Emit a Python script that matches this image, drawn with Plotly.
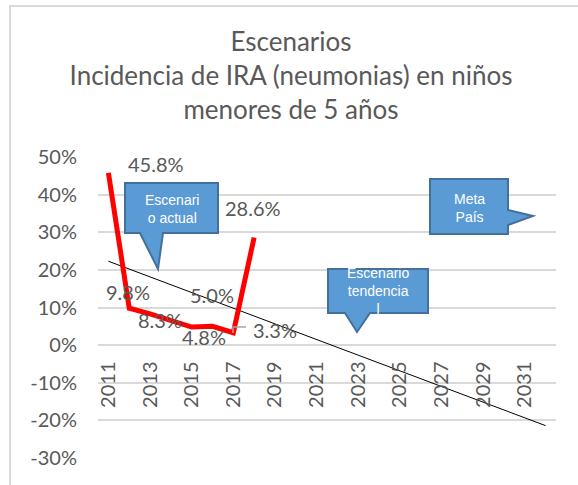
import plotly.graph_objects as go

# ---------------- data ----------------
years = [2011, 2012, 2013, 2014, 2015, 2016, 2017, 2018]
incidencia = [45.8, 9.8, 8.3, 6.6, 4.8, 5.0, 3.3, 28.6]
label_years = [2011, 2012, 2013, 2015, 2016, 2017, 2018]
label_values = [45.8, 9.8, 8.3, 4.8, 5.0, 3.3, 28.6]
trend_years = [2011, 2032]
trend_values = [22.3, -21.4]
tick_years = list(range(2011, 2032, 2))
y_ticks = [50, 40, 30, 20, 10, 0, -10, -20, -30]

# label offsets in px (style/position, not data)
label_shift = [(48, 9), (-1, 16), (10, -6), (12, -10), (-1, 31), (42, 3), (-1, 30)]

W, H = 578, 485
L, R, T, B = 98, 22, 157, 27
PW, PH = W - L - R, H - T - B

def px(x, y):
    return (x - L) / PW, (H - B - y) / PH

FONT = "Lato, 'Open Sans', sans-serif"
GRAY = "#595959"

fig = go.Figure()
fig.add_trace(go.Scatter(x=trend_years, y=trend_values, mode="lines",
                         line=dict(color="black", width=1),
                         hoverinfo="skip", showlegend=False))
fig.add_trace(go.Scatter(x=years, y=incidencia, mode="lines",
                         line=dict(color="#FF0000", width=5), showlegend=False))

ann = []
for yr, v, (dx, dy) in zip(label_years, label_values, label_shift):
    ann.append(dict(x=yr, y=v, xref="x", yref="y", text=f"{v:.1f}%", showarrow=False,
                    xanchor="center", yanchor="middle",
                    xshift=dx, yshift=dy, font=dict(family=FONT, size=20, color=GRAY)))

shapes = []
def path_of(points):
    pts = [px(*p) for p in points]
    return "M " + " L ".join(f"{a:.5f},{b:.5f}" for a, b in pts) + " Z"

callouts = [
    ([(125, 183), (218, 183), (218, 233), (163, 233), (158, 269), (140, 233), (125, 233)],
     "Escenari<br>o actual", (172, 209)),
    ([(430, 179), (508, 179), (508, 210), (533, 216), (508, 225), (508, 234), (430, 234)],
     "Meta<br>País", (469, 208)),
    ([(328, 269), (428, 269), (428, 313), (370, 313), (357, 332), (345, 313), (328, 313)],
     "Escenario<br>tendencia<br>l", (378, 291)),
]
for pts, txt, (cx, cy) in callouts:
    shapes.append(dict(type="path", xref="paper", yref="paper", path=path_of(pts),
                       fillcolor="#5B9BD5", line=dict(color="#41719C", width=2), layer="above"))
    ax, ay = px(cx, cy)
    ann.append(dict(x=ax, y=ay, xref="paper", yref="paper", text=txt, showarrow=False,
                    xanchor="center", yanchor="middle",
                    font=dict(family="Liberation Sans, Arial", size=14, color="white"),
                    align="center"))

# leader line for 3.3% label
a = px(233, 333); b = px(233, 327); c = px(246, 327)
shapes.append(dict(type="path", xref="paper", yref="paper",
                   path=f"M {a[0]},{a[1]} L {b[0]},{b[1]} L {c[0]},{c[1]}",
                   line=dict(color="#A6A6A6", width=1.5)))

# chart border (left/top visible)
b0 = px(10, 6); b1 = px(600, 500)
shapes.append(dict(type="rect", xref="paper", yref="paper", x0=b0[0], y0=b0[1], x1=b1[0], y1=b1[1],
                   line=dict(color="#D9D9D9", width=2), layer="below"))

zero_pos = px(0, 344.5)[1]

fig.update_layout(
    width=W, height=H, autosize=False,
    margin=dict(l=L, r=R, t=T, b=B),
    paper_bgcolor="white", plot_bgcolor="white",
    title=dict(text="Escenarios<br>Incidencia de IRA (neumonias) en niños<br>menores de 5 años",
               x=291 / W, xanchor="center", y=1 - 51 / H, yanchor="top",
               font=dict(family=FONT, size=26, color=GRAY)),
    xaxis=dict(range=[2010.5, 2032.5], tickmode="array", tickvals=tick_years,
               ticktext=[str(t) for t in tick_years], tickangle=-90,
               showgrid=False, zeroline=False, showline=False, ticks="",
               anchor="free", position=zero_pos, ticklabelstandoff=12,
               tickfont=dict(family=FONT, size=20, color=GRAY)),
    yaxis=dict(range=[-30, 50], tickmode="array", tickvals=y_ticks,
               ticktext=[f"{v}%" for v in y_ticks], showgrid=True, gridcolor="#D9D9D9",
               gridwidth=1.5, zeroline=False, showline=False, ticks="",
               ticklabelstandoff=20, tickfont=dict(family=FONT, size=20, color=GRAY)),
    annotations=ann, shapes=shapes,
)

fig.write_html("out.html", config={"displayModeBar": False},
               post_script="document.body.style.margin='0';document.body.style.padding='0';")
